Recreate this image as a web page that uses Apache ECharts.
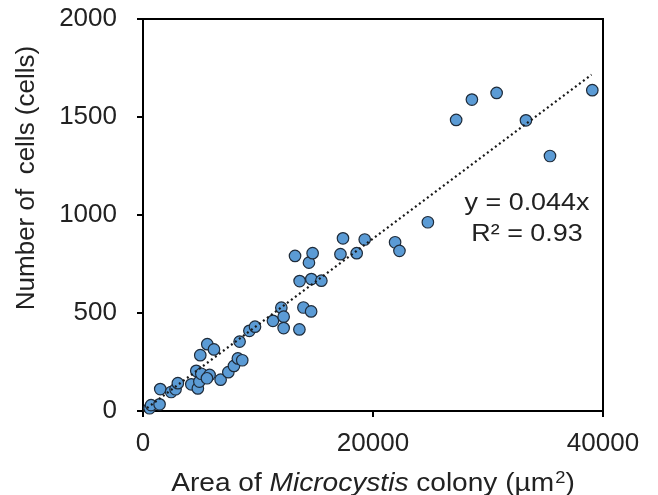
<!DOCTYPE html>
<html>
<head>
<meta charset="utf-8">
<script src="https://cdn.jsdelivr.net/npm/echarts@6/dist/echarts.min.js"></script>
<style>
html,body{margin:0;padding:0;background:#fff;}
#chart{width:658px;height:495px;}
</style>
</head>
<body>
<div id="chart"></div>
<script>
// Colony area (µm²)
var areaValues = [570, 700, 1440, 1500, 2450, 2830, 3030, 4200, 4770, 4900,
  4630, 5070, 5790, 5560, 4980, 5590, 6170, 6750, 7420, 7910,
  8250, 8630, 8400, 9250, 9740, 11300, 12030, 12230, 12230, 13600,
  13950, 14620, 13620, 14640, 15510, 13220, 14430, 14750, 17170, 17390,
  18580, 19280, 21920, 22300, 24770, 27230, 28600, 30750, 33300, 35390, 39070];
// Number of cells
var cellCounts = [14, 30, 34, 112, 97, 111, 142, 136, 115, 150,
  205, 190, 184, 167, 285, 341, 314, 160, 198, 230,
  268, 259, 354, 409, 430, 460, 527, 481, 423, 416,
  528, 508, 663, 673, 665, 791, 757, 805, 800, 881,
  805, 875, 861, 817, 963, 1485, 1589, 1623, 1483, 1301, 1637];
var xTicks = [0, 20000, 40000];
var yTicks = [0, 500, 1000, 1500, 2000];
var trendSlope = 0.044;
var trendRange = [0, 39000];
var equationText = 'y = 0.044x';
var r2Text = 'R² = 0.93';
var yTitle = 'Number of  cells (cells)';

var points = areaValues.map(function (x, i) { return [x, cellCounts[i]]; });
var trendPoints = trendRange.map(function (x) { return [x, trendSlope * x]; });

var FONT = '"Liberation Sans", Arial, sans-serif';
var TXT = '#222';
var chart = echarts.init(document.getElementById('chart'));
chart.setOption({
  animation: false,
  backgroundColor: '#fff',
  grid: {
    left: 143, right: 55, top: 19, bottom: 84,
    outerBoundsMode: 'none', containLabel: false,
    show: true, borderColor: '#000', borderWidth: 2, backgroundColor: 'transparent'
  },
  xAxis: {
    type: 'value', min: xTicks[0], max: xTicks[xTicks.length - 1], interval: 20000,
    axisLine: { show: true, lineStyle: { color: '#000', width: 2 } },
    axisTick: { show: true, inside: false, length: 6, lineStyle: { color: '#000', width: 2 } },
    axisLabel: { margin: 20, color: TXT, fontSize: 26, fontFamily: FONT,
      formatter: function (v) { return String(v); } },
    splitLine: { show: false }
  },
  yAxis: {
    type: 'value', min: yTicks[0], max: yTicks[yTicks.length - 1], interval: 500,
    axisLine: { show: true, lineStyle: { color: '#000', width: 2 } },
    axisTick: { show: true, inside: false, length: 6, lineStyle: { color: '#000', width: 2 } },
    axisLabel: { margin: 26, color: TXT, fontSize: 26, fontFamily: FONT,
      formatter: function (v) { return String(v); } },
    splitLine: { show: false }
  },
  graphic: [
    {
      type: 'text', x: 27, y: 178, rotation: Math.PI / 2,
      style: { text: yTitle, font: '26px ' + FONT, fill: TXT,
        textAlign: 'center', textVerticalAlign: 'middle' }
    },
    {
      type: 'text', x: 373, y: 484, scaleX: 1.08,
      style: {
        text: 'Area of {i|Microcystis} colony (µm{s|2})',
        font: '26px ' + FONT, fill: TXT, lineHeight: 30,
        textAlign: 'center', textVerticalAlign: 'middle',
        rich: {
          i: { fontStyle: 'italic', fontSize: 26, fontFamily: FONT, fill: TXT, lineHeight: 30 },
          s: { fontSize: 17, fontFamily: FONT, fill: TXT, lineHeight: 30, verticalAlign: 'top', padding: [1, 0, 0, 1] }
        }
      }
    },
    {
      type: 'text', x: 527, y: 203, scaleX: 1.12,
      style: { text: equationText, font: '24px ' + FONT, fill: TXT,
        textAlign: 'center', textVerticalAlign: 'middle' }
    },
    {
      type: 'text', x: 527, y: 234, scaleX: 1.12,
      style: { text: r2Text, font: '24px ' + FONT, fill: TXT,
        textAlign: 'center', textVerticalAlign: 'middle' }
    }
  ],
  series: [
    {
      type: 'line', data: trendPoints, symbol: 'none', silent: true,
      lineStyle: { color: '#1a1a1a', width: 2.2, type: [2, 3] }, z: 3
    },
    {
      type: 'scatter', data: points, symbol: 'circle', symbolSize: 11.5,
      itemStyle: { color: '#5B9BD5', borderColor: '#1E2B3A', borderWidth: 1.2, opacity: 1 },
      z: 2
    }
  ]
});
</script>
</body>
</html>
